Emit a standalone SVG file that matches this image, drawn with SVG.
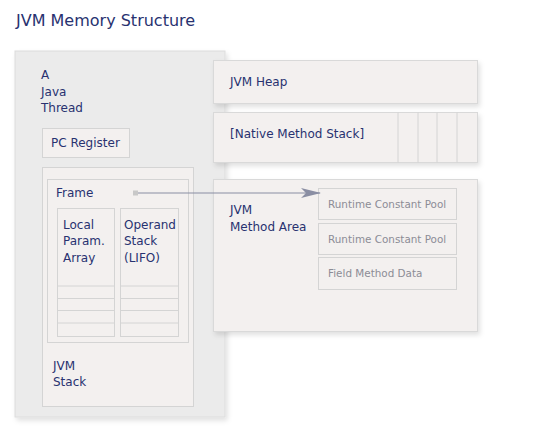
<svg xmlns="http://www.w3.org/2000/svg" width="556" height="435" viewBox="0 0 556 435">
<defs>
<filter id="sh" x="-10%" y="-10%" width="125%" height="130%">
<feDropShadow dx="2" dy="3" stdDeviation="2.5" flood-color="#000" flood-opacity="0.12"/>
</filter>
<marker id="ah" markerWidth="20" markerHeight="10" refX="19" refY="5" orient="auto" markerUnits="userSpaceOnUse">
<path d="M0,0 L20,5 L0,10 L5,5 Z" fill="#8a8ea3"/>
</marker>
<style>
.t{font-family:"DejaVu Sans","Verdana",sans-serif;fill:#283270;font-size:12px}
.g{font-family:"DejaVu Sans","Verdana",sans-serif;fill:#8c8c96;font-size:10.4px}
.box{fill:#f3f0ef;stroke:#d9d9d9;stroke-width:1}
.sub{fill:#f3f0ef;stroke:#d4d4d4;stroke-width:1}
.ln{stroke:#d4d4d4;stroke-width:1}
</style>
</defs>
<rect width="556" height="435" fill="#ffffff"/>
<text x="16" y="26" class="t" style="font-size:16px">JVM Memory Structure</text>

<g id="thread">
<rect x="15" y="51" width="210" height="366" fill="#ebebeb" stroke="#dcdcdc" filter="url(#sh)"/>
<text class="t"><tspan x="41" y="79">A</tspan><tspan x="41" y="96">Java</tspan><tspan x="41" y="112">Thread</tspan></text>
</g>

<g id="pc-register">
<rect x="42.5" y="128.5" width="87" height="29" class="sub"/>
<text x="51" y="147" class="t">PC Register</text>
</g>

<g id="jvm-stack">
<rect x="42.5" y="167.5" width="151" height="239" class="sub"/>
<text class="t"><tspan x="53" y="370">JVM</tspan><tspan x="53" y="386">Stack</tspan></text>
</g>

<g id="frame">
<rect x="47.5" y="179.5" width="141" height="163" class="sub"/>
<text x="56" y="197" class="t">Frame</text>
</g>

<g id="local-param-array">
<rect x="57.5" y="208.5" width="57" height="128" class="sub"/>
<text class="t"><tspan x="63" y="229">Local</tspan><tspan x="63" y="245">Param.</tspan><tspan x="63" y="262">Array</tspan></text>
<line x1="57.5" y1="286" x2="114.5" y2="286" class="ln"/>
<line x1="57.5" y1="298.5" x2="114.5" y2="298.5" class="ln"/>
<line x1="57.5" y1="310.5" x2="114.5" y2="310.5" class="ln"/>
<line x1="57.5" y1="323" x2="114.5" y2="323" class="ln"/>
</g>

<g id="operand-stack">
<rect x="120.5" y="208.5" width="58" height="128" class="sub"/>
<text class="t"><tspan x="124" y="229">Operand</tspan><tspan x="124" y="245">Stack</tspan><tspan x="124" y="262">(LIFO)</tspan></text>
<line x1="120.5" y1="286" x2="178.5" y2="286" class="ln"/>
<line x1="120.5" y1="298.5" x2="178.5" y2="298.5" class="ln"/>
<line x1="120.5" y1="310.5" x2="178.5" y2="310.5" class="ln"/>
<line x1="120.5" y1="323" x2="178.5" y2="323" class="ln"/>
</g>

<g id="jvm-heap">
<rect x="213.5" y="60.5" width="264" height="43" class="box" filter="url(#sh)"/>
<text x="230" y="86" class="t">JVM Heap</text>
</g>

<g id="native-method-stack">
<rect x="213.5" y="112.5" width="264" height="50" class="box" filter="url(#sh)"/>
<text x="230" y="138" class="t">[Native Method Stack]</text>
<line x1="398" y1="112.5" x2="398" y2="162.5" class="ln"/>
<line x1="418" y1="112.5" x2="418" y2="162.5" class="ln"/>
<line x1="437" y1="112.5" x2="437" y2="162.5" class="ln"/>
<line x1="457" y1="112.5" x2="457" y2="162.5" class="ln"/>
</g>

<g id="method-area">
<rect x="213.5" y="179.5" width="264" height="152" class="box" filter="url(#sh)"/>
<text class="t"><tspan x="230" y="214">JVM</tspan><tspan x="230" y="231">Method Area</tspan></text>
</g>

<g id="runtime-constant-pool-1">
<rect x="318.5" y="188.5" width="138" height="31" class="sub"/>
<text x="328" y="208" class="g">Runtime Constant Pool</text>
</g>
<g id="runtime-constant-pool-2">
<rect x="318.5" y="223.5" width="138" height="31" class="sub"/>
<text x="328" y="243" class="g">Runtime Constant Pool</text>
</g>
<g id="field-method-data">
<rect x="318.5" y="257.5" width="138" height="32" class="sub"/>
<text x="328" y="277" class="g">Field Method Data</text>
</g>

<g id="connectors">
<rect x="133" y="190.5" width="5" height="5" fill="#c8c8c8"/>
<line x1="138" y1="193" x2="320" y2="193" stroke="#8a8ea3" stroke-width="1.2" marker-end="url(#ah)"/>
</g>
</svg>
